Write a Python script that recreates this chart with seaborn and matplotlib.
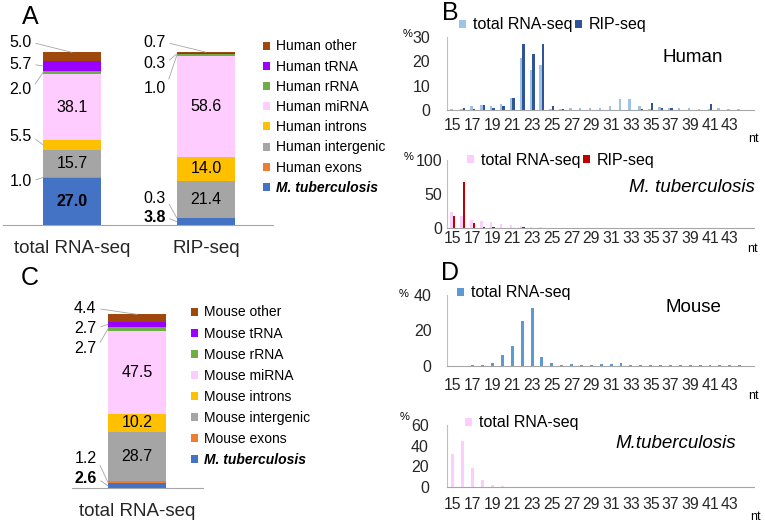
import numpy as np
import pandas as pd
import matplotlib
matplotlib.use("Agg")
import matplotlib.pyplot as plt
import seaborn as sns
from matplotlib.patches import Patch

# ---------------- data ----------------
# stacked composition (bottom -> top)
human_groups = ["M. tuberculosis", "Human exons", "Human intergenic", "Human introns",
                "Human miRNA", "Human rRNA", "Human tRNA", "Human other"]
mouse_groups = ["M. tuberculosis", "Mouse exons", "Mouse intergenic", "Mouse introns",
                "Mouse miRNA", "Mouse rRNA", "Mouse tRNA", "Mouse other"]
group_colors = ["#4472C4", "#ED7D31", "#A5A5A5", "#FFC000",
                "#FFCCFF", "#70AD47", "#9900FF", "#9E480E"]

human_samples = ["total RNA-seq", "RIP-seq"]
human_total = [27.0, 1.0, 15.7, 5.5, 38.1, 2.0, 5.7, 5.0]
human_rip = [3.8, 0.3, 21.4, 14.0, 58.6, 1.0, 0.3, 0.7]
mouse_samples = ["total RNA-seq"]
mouse_total = [2.6, 1.2, 28.7, 10.2, 47.5, 2.7, 2.7, 4.4]

# read length distributions, 15..44 nt
lengths = list(range(15, 45))
hs_len_total = [0.3, 0.5, 1.5, 2.0, 1.5, 2.5, 5.0, 21.5, 16.5, 18.5, 0.3, 0.5, 1.0, 1.0, 1.0,
                0.8, 1.8, 4.5, 4.5, 1.5, 0.5, 1.2, 0.8, 0.7, 0.7, 0.5, 0.3, 0.7, 0.3, 0.3]
hs_len_rip = [0.1, 1.0, 0.5, 2.0, 0.8, 1.5, 5.0, 27.0, 23.0, 27.0, 1.5, 0.3, 0.2, 0.2, 0.1,
              0.1, 0.1, 0.1, 0.2, 0.5, 3.0, 1.0, 0.7, 0.2, 0.1, 0.1, 2.5, 0.1, 0.1, 0.1]
mtb_h_len_total = [23.0, 17.0, 12.5, 11.0, 9.5, 6.5, 4.0, 2.5, 1.2, 0.8, 0.5, 0.4, 0.3, 0.3, 0.2,
                   0.1, 0.1, 0.1, 0.1, 0.1, 0.1, 0.1, 0.1, 0.1, 0.1, 0.1, 0.1, 0.1, 0.1, 0.1]
mtb_h_len_rip = [17.0, 68.0, 7.0, 2.0, 1.5, 0.5, 0.3, 1.5, 0.3, 0.1, 0.1, 0.1, 0.1, 0.1, 0.1,
                 0.1, 0.1, 0.1, 0.1, 0.1, 0.1, 0.1, 0.1, 0.1, 0.1, 0.1, 0.1, 0.1, 0.1, 0.1]
mm_len_total = [0.2, 0.2, 0.3, 0.8, 1.5, 6.4, 11.0, 25.5, 32.5, 4.9, 1.5, 0.8, 1.0, 0.8, 0.8,
                1.3, 1.3, 1.5, 0.6, 0.5, 0.5, 0.5, 0.4, 0.4, 0.4, 0.5, 0.4, 0.4, 0.3, 0.3]
mtb_m_len_total = [32.0, 45.0, 18.0, 7.0, 2.0, 0.5, 0.3, 0.1, 0.1, 0.1, 0.1, 0.1, 0.1, 0.1, 0.1,
                   0.1, 0.1, 0.1, 0.1, 0.1, 0.1, 0.1, 0.1, 0.1, 0.1, 0.1, 0.1, 0.1, 0.1, 0.1]

# ---------------- setup ----------------
sns.set_style("white")
plt.rcParams["font.family"] = ["Liberation Sans", "DejaVu Sans"]
plt.rcParams["text.color"] = "black"
plt.rcParams["patch.force_edgecolor"] = False

W, H = 765, 525
fig = plt.figure(figsize=(W / 100, H / 100), dpi=100)


def rect(left, top, right, bottom):
    return [left / W, 1 - bottom / H, (right - left) / W, (bottom - top) / H]


def fx(x, y):
    return (x / W, 1 - y / H)


def stacked_panel(ax, samples, tables, groups, label_y, bar_w, xlim):
    tab = np.array(tables)
    cum = np.cumsum(tab, axis=1)
    # draw cumulative bars from the top layer down so they overlap into a stack
    for i in range(tab.shape[1] - 1, -1, -1):
        sns.barplot(x=samples, y=cum[:, i], color=group_colors[i], width=bar_w,
                    saturation=1, errorbar=None, linewidth=0, ax=ax)
    for j in range(len(samples)):
        for i in range(tab.shape[1]):
            v = tab[j, i]
            mid = cum[j, i] - v / 2
            weight = "bold" if i == 0 else "normal"
            if v >= 10:
                ax.text(j, mid, f"{v:.1f}", ha="center", va="center",
                        fontsize=11.5, fontweight=weight)
            elif i in label_y[j]:
                target = (j, cum[j, -1]) if i == tab.shape[1] - 1 else (j - bar_w / 2, mid)
                ax.annotate(f"{v:.1f}", xy=target,
                            xytext=(j - bar_w / 2 - 0.085, label_y[j][i]),
                            ha="right", va="center", fontsize=11.5, fontweight=weight,
                            annotation_clip=False,
                            arrowprops=dict(arrowstyle="-", color="#A6A6A6", lw=0.6,
                                            shrinkA=1, shrinkB=0, relpos=(1, 0.5)))
    ax.set_ylim(0, 100.2)
    ax.set_xlim(*xlim)
    ax.set_yticks([])
    ax.set_xticks(range(len(samples)))
    ax.set_xticklabels(samples, fontsize=13.5)
    ax.tick_params(axis="x", length=0, pad=10.5)
    ax.set_xlabel("")
    ax.set_ylabel("")
    for s in ["top", "right", "left"]:
        ax.spines[s].set_visible(False)
    ax.spines["bottom"].set_color("#A6A6A6")
    ax.spines["bottom"].set_linewidth(0.8)


def stack_legend(ax, groups, anchor, spacing):
    handles = [Patch(facecolor=group_colors[i], linewidth=0)
               for i in range(len(groups) - 1, -1, -1)]
    labels = groups[::-1]
    leg = ax.legend(handles, labels, loc="upper left", bbox_to_anchor=fx(*anchor),
                    bbox_transform=fig.transFigure, frameon=False, fontsize=10,
                    handlelength=0.5, handleheight=0.5, handletextpad=0.45,
                    labelspacing=spacing, borderpad=0, borderaxespad=0)
    leg.get_texts()[-1].set_fontweight("bold")
    leg.get_texts()[-1].set_fontstyle("italic")


def length_panel(ax, series, names, palette, ymax, yticks, width, ypad, xpad, legend_at):
    df = pd.DataFrame({
        "length": np.tile(lengths, len(series)),
        "pct": np.concatenate(series),
        "library": np.repeat(names, len(lengths)),
    })
    sns.barplot(data=df, x="length", y="pct", hue="library", palette=palette,
                width=width, saturation=1, errorbar=None, linewidth=0,
                legend=False, ax=ax)
    ax.set_xlim(-0.6, 30.45)
    ax.set_ylim(0, ymax)
    ax.set_yticks(yticks)
    ax.set_yticklabels([str(t) for t in yticks], fontsize=11.5)
    ax.set_xticks(range(0, len(lengths), 2))
    ax.set_xticklabels([str(n) for n in lengths[::2]], fontsize=11.3)
    ax.tick_params(axis="y", length=0, pad=ypad)
    ax.tick_params(axis="x", length=0, pad=xpad)
    ax.set_xlabel("")
    ax.set_ylabel("")
    sns.despine(ax=ax)
    ax.spines["left"].set_color("#BFBFBF")
    ax.spines["left"].set_linewidth(0.8)
    ax.spines["bottom"].set_color("#A6A6A6")
    ax.spines["bottom"].set_linewidth(0.8)
    handles = [Patch(facecolor=c, linewidth=0) for c in palette]
    ax.legend(handles, names, loc="center left", bbox_to_anchor=fx(*legend_at),
              bbox_transform=fig.transFigure, ncol=len(names), frameon=False,
              fontsize=11.5, handlelength=0.45, handleheight=0.45, handletextpad=0.4,
              columnspacing=0.2, borderpad=0, borderaxespad=0)


# ---------------- panel A ----------------
axA = fig.add_axes(rect(3, 52, 273, 225))
stacked_panel(axA, human_samples, [human_total, human_rip], human_groups,
              label_y=[{7: 105.8, 6: 93.1, 5: 78.6, 3: 51.4, 1: 25.4},
                       {7: 105.8, 6: 93.6, 5: 79.0, 1: 15.6, 0: 4.6}],
              bar_w=0.433, xlim=(-0.515, 1.5))
stack_legend(axA, human_groups, (263, 39.5), 0.446)

# ---------------- panel C ----------------
axC = fig.add_axes(rect(72, 314, 203, 488))
stacked_panel(axC, mouse_samples, [mouse_total], mouse_groups,
              label_y=[{7: 103.4, 6: 92.0, 5: 80.5, 1: 17.2, 0: 5.7}],
              bar_w=0.433, xlim=(-0.485, 0.4925))
stack_legend(axC, mouse_groups, (191, 305.5), 0.51)

# ---------------- panel B ----------------
axB1 = fig.add_axes(rect(447, 37, 754, 110))
length_panel(axB1, [hs_len_total, hs_len_rip], ["total RNA-seq", "RIP-seq"],
             ["#9DC3E6", "#2F5597"], 30, [0, 10, 20, 30], 0.5, 12, 6, (459, 25))
axB2 = fig.add_axes(rect(447, 160, 754, 228))
length_panel(axB2, [mtb_h_len_total, mtb_h_len_rip], ["total RNA-seq", "RIP-seq"],
             ["#FFCCFF", "#C00000"], 100, [0, 50, 100], 0.5, 3.5, 2, (467, 160))

# ---------------- panel D ----------------
axD1 = fig.add_axes(rect(447, 295, 754, 366))
length_panel(axD1, [mm_len_total], ["total RNA-seq"], ["#5B9BD5"],
             40, [0, 20, 40], 0.3, 11, 9, (457, 293))
axD2 = fig.add_axes(rect(447, 425, 754, 487))
length_panel(axD2, [mtb_m_len_total], ["total RNA-seq"], ["#FFCCFF"],
             60, [0, 20, 40, 60], 0.3, 13, 7, (465, 423))

# ---------------- text ----------------
fig.text(*fx(693, 57), "Human", ha="center", va="center", fontsize=13.5)
fig.text(*fx(755, 188), "M. tuberculosis", ha="right", va="center", fontsize=13.5, style="italic")
fig.text(*fx(693, 307), "Mouse", ha="center", va="center", fontsize=13.5)
fig.text(*fx(736, 443), "M.tuberculosis", ha="right", va="center", fontsize=13.5, style="italic")

for (x, y) in [(408, 34), (409, 157), (404, 294), (405, 417)]:
    fig.text(*fx(x, y), "%", ha="center", va="center", fontsize=8)
for (x, y) in [(753, 139), (752, 249), (753, 396), (755, 517)]:
    fig.text(*fx(x, y), "nt", ha="center", va="center", fontsize=9)

for letter, (x, y) in zip("ABCD", [(30, 17), (450, 13), (30, 278), (450, 273)]):
    fig.text(*fx(x, y), letter, ha="center", va="center", fontsize=18)

fig.savefig("out.png", dpi=100)
